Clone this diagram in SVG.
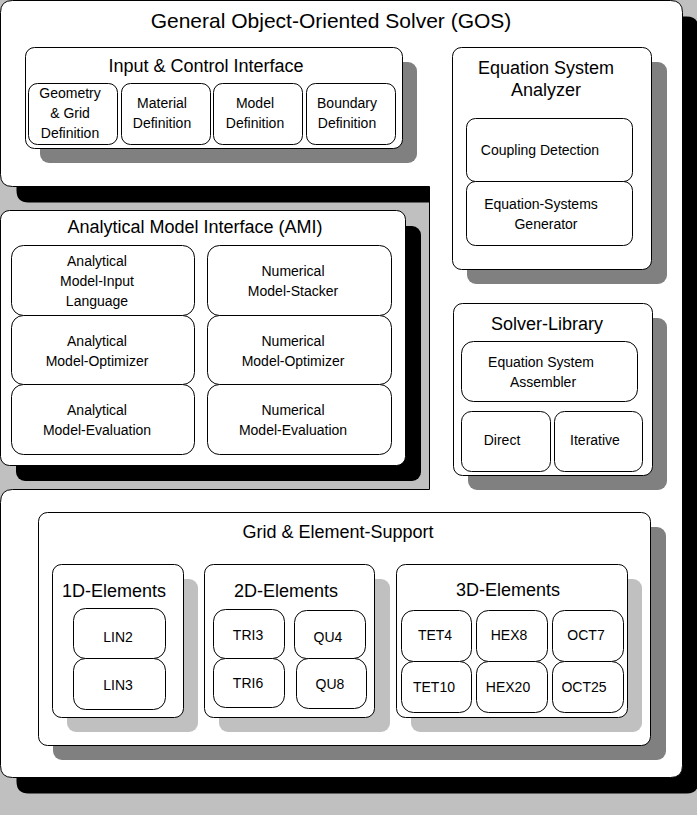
<svg xmlns="http://www.w3.org/2000/svg" width="697" height="815" viewBox="0 0 697 815">
<style>
.box{fill:#fff;stroke:#000;stroke-width:1}
.sh1{fill:#000}
.sh2{fill:#808080}
.sh3{fill:#c0c0c0}
text{font-family:"Liberation Sans",Arial,Helvetica,sans-serif;fill:#000;text-anchor:middle}
.t1{font-size:21px}
.t2{font-size:18px}
.t3{font-size:14px}
</style>
<rect x="0" y="0" width="697" height="815" fill="#c0c0c0"/>
<g id="gos">
<path class="sh1" transform="translate(16,16)" d="M12.5,0.5 H670.5 Q682.5,0.5 682.5,12.5 V765.5 Q682.5,777.5 670.5,777.5 H12.5 Q0.5,777.5 0.5,765.5 V502.5 Q0.5,489.5 12.5,489.5 H429.5 V186.5 H12.5 Q0.5,186.5 0.5,174.5 V12.5 Q0.5,0.5 12.5,0.5 Z"/>
<path class="box" d="M12.5,0.5 H670.5 Q682.5,0.5 682.5,12.5 V765.5 Q682.5,777.5 670.5,777.5 H12.5 Q0.5,777.5 0.5,765.5 V502.5 Q0.5,489.5 12.5,489.5 H429.5 V186.5 H12.5 Q0.5,186.5 0.5,174.5 V12.5 Q0.5,0.5 12.5,0.5 Z"/>
<text class="t1" x="331" y="28">General Object-Oriented Solver (GOS)</text>
</g>
<g id="input-control">
<rect class="sh2" x="40" y="62" width="377" height="101" rx="9"/>
<rect class="box" x="25.5" y="47.5" width="377" height="101" rx="9"/>
<text class="t2" x="206" y="72">Input &amp; Control Interface</text>
</g>
<g id="geometry">
<rect class="box" x="28.5" y="83.5" width="89" height="61" rx="9"/>
<text class="t3" x="70" y="98">Geometry</text>
<text class="t3" x="70" y="118">&amp; Grid</text>
<text class="t3" x="70" y="138">Definition</text>
</g>
<g id="material">
<rect class="box" x="121.5" y="83.5" width="89" height="61" rx="9"/>
<text class="t3" x="162" y="108">Material</text>
<text class="t3" x="162" y="128">Definition</text>
</g>
<g id="model">
<rect class="box" x="213.5" y="83.5" width="89" height="61" rx="9"/>
<text class="t3" x="255" y="108">Model</text>
<text class="t3" x="255" y="128">Definition</text>
</g>
<g id="boundary">
<rect class="box" x="306.5" y="83.5" width="89" height="61" rx="9"/>
<text class="t3" x="347" y="108">Boundary</text>
<text class="t3" x="347" y="128">Definition</text>
</g>
<g id="eq-analyzer">
<rect class="sh2" x="467" y="62" width="200" height="222" rx="9"/>
<rect class="box" x="452.5" y="47.5" width="199" height="222" rx="9"/>
<text class="t2" x="546" y="74">Equation System</text>
<text class="t2" x="546" y="96">Analyzer</text>
</g>
<g id="coupling">
<rect class="box" x="466.5" y="118.5" width="166" height="63" rx="9"/>
<text class="t3" x="540" y="155">Coupling Detection</text>
</g>
<g id="eq-generator">
<rect class="box" x="466.5" y="181.5" width="166" height="64" rx="9"/>
<text class="t3" x="541" y="209">Equation-Systems</text>
<text class="t3" x="546" y="229">Generator</text>
</g>
<g id="ami">
<rect class="sh1" x="16" y="226" width="405" height="255" rx="9"/>
<rect class="box" x="0.5" y="210.5" width="405" height="255" rx="9"/>
<text class="t2" x="195" y="233">Analytical Model Interface (AMI)</text>
</g>
<g id="ami-input">
<rect class="box" x="11.5" y="245.5" width="183" height="70" rx="12"/>
<text class="t3" x="97" y="266">Analytical</text>
<text class="t3" x="97" y="286">Model-Input</text>
<text class="t3" x="97" y="306">Language</text>
</g>
<g id="ami-optimizer">
<rect class="box" x="11.5" y="315.5" width="183" height="69" rx="12"/>
<text class="t3" x="97" y="346">Analytical</text>
<text class="t3" x="97" y="366">Model-Optimizer</text>
</g>
<g id="ami-evaluation">
<rect class="box" x="11.5" y="384.5" width="183" height="70" rx="12"/>
<text class="t3" x="97" y="415">Analytical</text>
<text class="t3" x="97" y="435">Model-Evaluation</text>
</g>
<g id="num-stacker">
<rect class="box" x="207.5" y="245.5" width="184" height="70" rx="12"/>
<text class="t3" x="293" y="276">Numerical</text>
<text class="t3" x="293" y="296">Model-Stacker</text>
</g>
<g id="num-optimizer">
<rect class="box" x="207.5" y="315.5" width="184" height="69" rx="12"/>
<text class="t3" x="293" y="346">Numerical</text>
<text class="t3" x="293" y="366">Model-Optimizer</text>
</g>
<g id="num-evaluation">
<rect class="box" x="207.5" y="384.5" width="184" height="70" rx="12"/>
<text class="t3" x="293" y="415">Numerical</text>
<text class="t3" x="293" y="435">Model-Evaluation</text>
</g>
<g id="solver-library">
<rect class="sh2" x="468" y="318" width="199" height="172" rx="9"/>
<rect class="box" x="453.5" y="303.5" width="199" height="172" rx="9"/>
<text class="t2" x="547" y="330">Solver-Library</text>
</g>
<g id="assembler">
<rect class="box" x="461.5" y="341.5" width="176" height="60" rx="12"/>
<text class="t3" x="541" y="367">Equation System</text>
<text class="t3" x="543" y="387">Assembler</text>
</g>
<g id="direct">
<rect class="box" x="461.5" y="411.5" width="89" height="60" rx="10"/>
<text class="t3" x="502" y="445">Direct</text>
</g>
<g id="iterative">
<rect class="box" x="554.5" y="411.5" width="88" height="60" rx="10"/>
<text class="t3" x="595" y="445">Iterative</text>
</g>
<g id="grid-element">
<rect class="sh2" x="53" y="527" width="613" height="233" rx="9"/>
<rect class="box" x="38.5" y="512.5" width="612" height="233" rx="9"/>
<text class="t2" x="338" y="538">Grid &amp; Element-Support</text>
</g>
<g id="elements-1d">
<rect class="sh3" x="67" y="579" width="131" height="153" rx="9"/>
<rect class="box" x="52.5" y="564.5" width="131" height="153" rx="9"/>
<text class="t2" x="114" y="597">1D-Elements</text>
</g>
<g id="lin2">
<rect class="box" x="73.5" y="608.5" width="92" height="50" rx="12"/>
<text class="t3" x="118" y="642">LIN2</text>
</g>
<g id="lin3">
<rect class="box" x="73.5" y="658.5" width="92" height="51" rx="12"/>
<text class="t3" x="118" y="690">LIN3</text>
</g>
<g id="elements-2d">
<rect class="sh3" x="219" y="579" width="171" height="153" rx="9"/>
<rect class="box" x="204.5" y="564.5" width="170" height="153" rx="9"/>
<text class="t2" x="286" y="597">2D-Elements</text>
</g>
<g id="tri3">
<rect class="box" x="213.5" y="609.5" width="71" height="49" rx="12"/>
<text class="t3" x="248" y="640">TRI3</text>
</g>
<g id="qu4">
<rect class="box" x="294.5" y="610.5" width="71" height="48" rx="12"/>
<text class="t3" x="328" y="642">QU4</text>
</g>
<g id="tri6">
<rect class="box" x="213.5" y="658.5" width="71" height="49" rx="12"/>
<text class="t3" x="248" y="688">TRI6</text>
</g>
<g id="qu8">
<rect class="box" x="296.5" y="658.5" width="70" height="50" rx="12"/>
<text class="t3" x="330" y="689">QU8</text>
</g>
<g id="elements-3d">
<rect class="sh3" x="411" y="579" width="231" height="153" rx="9"/>
<rect class="box" x="396.5" y="564.5" width="231" height="153" rx="9"/>
<text class="t2" x="508" y="596">3D-Elements</text>
</g>
<g id="tet4">
<rect class="box" x="401.5" y="610.5" width="70" height="51" rx="12"/>
<text class="t3" x="435" y="640">TET4</text>
</g>
<g id="hex8">
<rect class="box" x="476.5" y="610.5" width="71" height="51" rx="12"/>
<text class="t3" x="509" y="640">HEX8</text>
</g>
<g id="oct7">
<rect class="box" x="552.5" y="610.5" width="71" height="51" rx="12"/>
<text class="t3" x="586" y="640">OCT7</text>
</g>
<g id="tet10">
<rect class="box" x="401.5" y="661.5" width="70" height="51" rx="12"/>
<text class="t3" x="434" y="692">TET10</text>
</g>
<g id="hex20">
<rect class="box" x="476.5" y="661.5" width="71" height="51" rx="12"/>
<text class="t3" x="508" y="692">HEX20</text>
</g>
<g id="oct25">
<rect class="box" x="552.5" y="661.5" width="71" height="51" rx="12"/>
<text class="t3" x="584" y="692">OCT25</text>
</g>
<g id="connectors"></g>
</svg>
